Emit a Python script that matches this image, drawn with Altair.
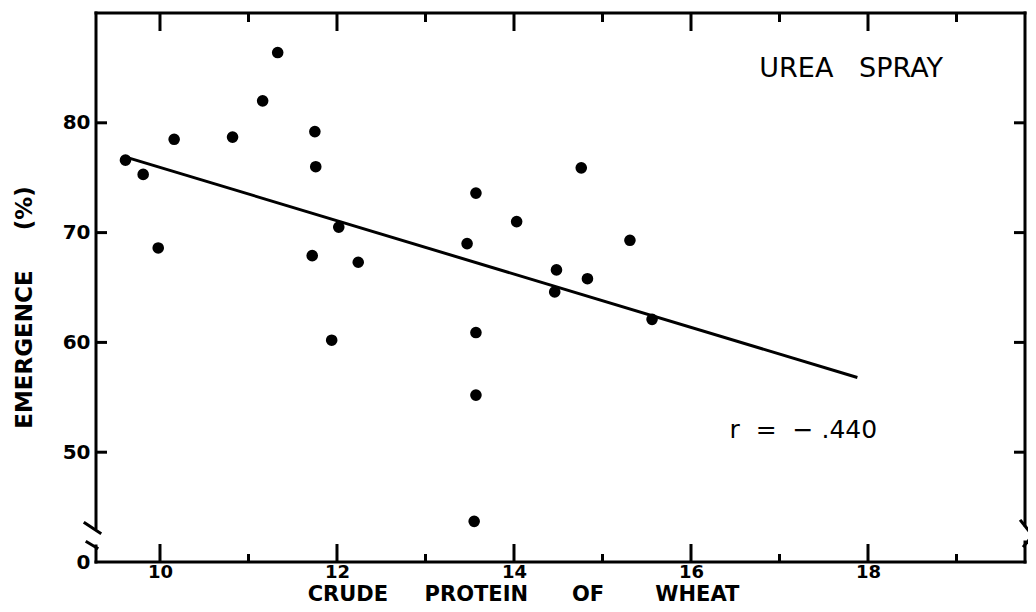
import altair as alt
import pandas as pd

# ---- data ----
protein = [9.61, 9.81, 9.98, 10.16, 10.82, 11.16, 11.33, 11.75, 11.76, 11.72,
           12.02, 12.24, 13.47, 13.57, 14.03, 14.76, 15.31, 14.48, 14.83, 14.46,
           15.56, 11.94, 13.57, 13.57, 13.55]
emergence = [76.6, 75.3, 68.6, 78.5, 78.7, 82.0, 86.4, 79.2, 76.0, 67.9,
             70.5, 67.3, 69.0, 73.6, 71.0, 75.9, 69.3, 66.6, 65.8, 64.6,
             62.1, 60.2, 60.9, 55.2, 43.7]

fit_x = [9.605, 17.88]
fit_y = [76.9, 56.8]

x_major = [10, 12, 14, 16, 18]
x_minor = [11, 13, 15, 17, 19]
y_ticks = [50, 60, 70, 80]
y_labels = [40, 50, 60, 70, 80]

NB = "\u00a0"
x_title = "CRUDE" + NB * 5 + "PROTEIN" + NB * 6 + "OF" + NB * 7 + "WHEAT"
y_title = "EMERGENCE" + NB * 5 + "(%)"
notes_text = ["UREA" + NB * 3 + "SPRAY", "r" + NB * 2 + "=" + NB * 2 + "\u2212" + NB + ".440"]
notes_x = [17.81, 17.27]
notes_y = [84.9, 52.0]
notes_size = [27, 25]

# ---- layout ----
W, H = 929, 549
PAD_T, PAD_B = 5, 42
FONT = "DejaVu Sans"
xscale = alt.Scale(domain=[9.277, 19.774], nice=False, zero=False)
yscale = alt.Scale(domain=[40, 90], nice=False, zero=False)

xaxis = alt.Axis(values=x_major, format="d", domain=False, ticks=False, tickSize=0,
                 grid=False, labelFont=FONT, labelFontSize=18, labelFontWeight="bold",
                 labelColor="black", labelPadding=1, labelFlush=False,
                 title=x_title, titleFont=FONT, titleFontSize=21, titleFontWeight="bold",
                 titleColor="black", titleX=427, titleY=PAD_B, titleAlign="center",
                 titleBaseline="bottom")
yaxis = alt.Axis(values=y_labels, labelExpr="datum.value == 40 ? '0' : datum.label",
                 domain=False, ticks=False, tickSize=0, grid=False,
                 labelFont=FONT, labelFontSize=20, labelFontWeight="bold",
                 labelColor="black", labelPadding=6, labelFlush=False,
                 title=y_title, titleFont=FONT, titleFontSize=23, titleFontWeight="bold",
                 titleColor="black", titleAngle=270, titleX=-72, titleY=294,
                 titleAlign="center", titleBaseline="middle")


def X(field):
    return alt.X(field, scale=xscale, axis=xaxis)


def Y(field):
    return alt.Y(field, scale=yscale, axis=yaxis)


pts = pd.DataFrame({"protein": protein, "emergence": emergence})
fit = pd.DataFrame({"protein": fit_x, "emergence": fit_y})
notes = pd.DataFrame({"x": notes_x, "y": notes_y, "t": notes_text, "s": notes_size})

points = alt.Chart(pts).mark_circle(size=135, color="black", opacity=1).encode(
    x=X("protein:Q"), y=Y("emergence:Q"))

line = alt.Chart(fit).mark_line(color="black", strokeWidth=3).encode(
    x=X("protein:Q"), y=Y("emergence:Q"))

text = alt.Chart(notes).mark_text(font=FONT, color="black",
                                  align="center", baseline="middle").encode(
    x=X("x:Q"), y=Y("y:Q"), text="t:N",
    size=alt.Size("s:Q", scale=None, legend=None),
)

# inward ticks
maj = pd.DataFrame({"v": x_major})
mnr = pd.DataFrame({"v": x_minor})
yt = pd.DataFrame({"v": y_ticks})
rule_style = dict(color="black", strokeWidth=3)


def xticks(df, y0, y1):
    return alt.Chart(df).mark_rule(**rule_style).encode(
        x=X("v:Q"), y=alt.value(y0), y2=alt.value(y1))


def yticks(x0, x1):
    return alt.Chart(yt).mark_rule(**rule_style).encode(
        y=Y("v:Q"), x=alt.value(x0), x2=alt.value(x1))


ticks = [xticks(maj, H, H - 18), xticks(mnr, H, H - 8), xticks(maj, 0, 18), xticks(mnr, 0, 9),
         yticks(0, 11), yticks(W, W - 11)]

# frame with broken vertical axes (pixel layout decoration)
one = pd.DataFrame({"k": [0]})


def seg(x1, x2, y1, y2):
    return alt.Chart(one).mark_rule(color="black", strokeWidth=3, strokeCap="square").encode(
        x=alt.value(x1), x2=alt.value(x2), y=alt.value(y1), y2=alt.value(y2))


frame = [
    seg(0, W, 0, 0), seg(0, W, H, H),
    seg(0, 0, 0, H - 34), seg(0, 0, H - 16, H),
    seg(W, W, 0, H - 37), seg(W, W, H - 20, H),
    seg(-11, 4, H - 39, H - 29), seg(-9, 1, H - 20, H - 14),
    seg(W - 4, W + 4, H - 41, H - 31), seg(W - 1, W + 4, H - 16, H - 22),
]

chart = alt.layer(points, line, text, *frame, *ticks).properties(
    width=W, height=H,
    autosize=alt.AutoSizeParams(type="none"),
    padding={"left": 88, "top": PAD_T, "right": 3, "bottom": PAD_B},
    background="white",
).configure_view(stroke=None)

chart.save("out.html", embed_options={"renderer": "svg", "actions": False})
